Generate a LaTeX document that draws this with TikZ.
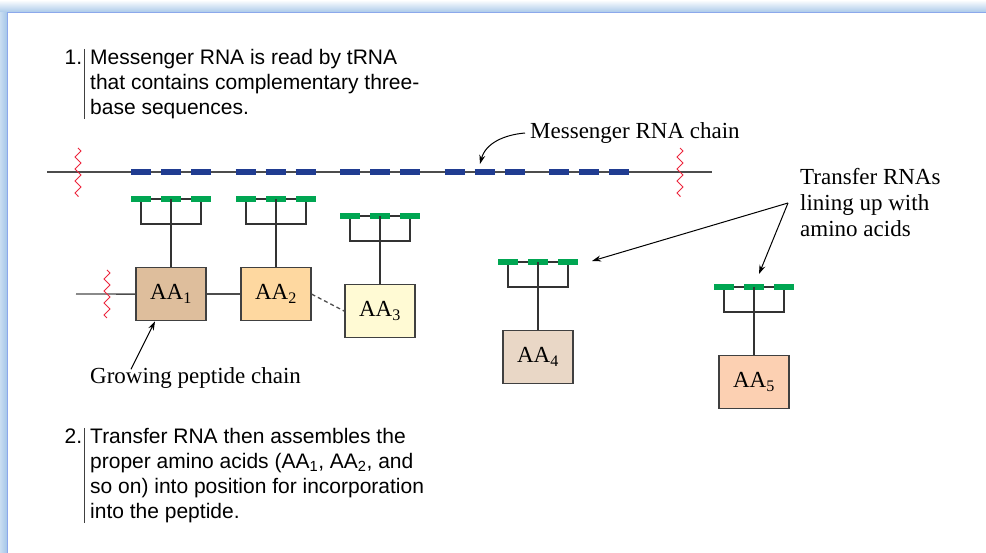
\documentclass[tikz,border=0pt]{standalone}
\usepackage{fontspec}
\setmainfont{Liberation Serif}
\newfontfamily\notefont{Liberation Sans}
\usetikzlibrary{arrows.meta,positioning,decorations.pathmorphing}
\definecolor{codonblue}{RGB}{32,60,145}
\definecolor{anticodongreen}{RGB}{0,166,82}
\definecolor{cutred}{RGB}{236,38,62}
\definecolor{frameblue}{RGB}{165,198,232}
\definecolor{aaone}{RGB}{222,190,156}
\definecolor{aatwo}{RGB}{254,216,160}
\definecolor{aathree}{RGB}{255,250,212}
\definecolor{aafour}{RGB}{233,215,198}
\definecolor{aafive}{RGB}{252,208,178}
\newcommand{\stepno}[1]{\llap{#1\hspace{8pt}}}

\begin{document}
\begin{tikzpicture}[x=1pt, y=-1pt,
  strand/.style={line width=1.3pt, draw=black!70},
  codon/.style={line width=6pt, codonblue},
  anticodon/.style={line width=6pt, anticodongreen},
  arm/.style={line width=1.1pt, black!80},
  cut/.style={cutred, line width=1pt, decorate,
              decoration={zigzag, segment length=12pt, amplitude=3pt}},
  acid/.style={draw=black!75, line width=1.3pt, minimum width=70pt,
               minimum height=53pt, inner sep=0pt, font=\fontsize{23}{26}\selectfont},
  arr/.style={-{Stealth[length=9pt, width=6pt]}, line width=1pt},
  note/.style={font=\notefont\fontsize{21}{25}\selectfont, align=left,
               inner xsep=6pt, inner ysep=0pt, anchor=north west},
  lbl/.style={font=\fontsize{23}{26}\selectfont, align=left, inner sep=0pt}
]
\useasboundingbox (0,0) rectangle (986,553);

% frame
\shade[top color=white, bottom color=frameblue] (0,0) rectangle (986,13);
\shade[left color=white!40!frameblue, right color=frameblue] (0,13) rectangle (7,553);
\draw[frameblue!85!blue, line width=1pt] (986,13) -- (7,13) -- (7,553);

% step 1 text
\node[note] (s1) at (84,49) {\stepno{1.}Messenger RNA is read by tRNA\\that contains complementary three-\\base sequences.};
\draw[line width=1pt, black!75] (s1.north west) -- (s1.south west);

% messenger RNA
\coordinate (m0) at (47,172);
\coordinate (m1) at (712,172);
\draw[strand] (m0) -- (m1);
\foreach \g in {131,235.5,340,444.5,549}
  \foreach \d in {0,30,60}
    \draw[codon] (\g+\d,172) -- ++(20,0);
\draw[cut] (78,148) -- (78,197);
\draw[cut] (680,148) -- (680,197);

\node[lbl, anchor=west] (mlab) at (530,133) {Messenger RNA chain};
\coordinate (mhit) at (480,164);
\draw[arr] ([xshift=-5pt]mlab.west) to[out=185, in=75] (mhit);

% transfer RNAs with amino acids
\foreach \n/\cx/\cy/\fillc in {1/171/199/aaone, 2/276/199/aatwo, 3/380/216/aathree,
                               4/538/262/aafour, 5/754/287/aafive} {
  \coordinate (t\n) at (\cx,\cy);
  \draw[arm] (\cx-40,\cy) -- (\cx+40,\cy);
  \draw[arm] (\cx-30,\cy) |- (\cx+30,\cy+25) -- (\cx+30,\cy);
  \foreach \d in {-30,0,30}
    \draw[anticodon] (\cx+\d-10,\cy) -- ++(20,0);
  \node[acid, fill=\fillc, below=68pt of t\n] (aa\n) {AA\textsubscript{\n}};
  \draw[arm] (t\n) -- (aa\n);
}

% growing peptide
\coordinate (p0) at (76,294);
\draw[strand] (p0) -- (aa1.west);
\draw[strand] (aa1) -- (aa2);
\draw[strand, dash pattern=on 4pt off 3pt] (aa2.east) -- (aa3.west);
\draw[cut] (107,270) -- (107,318);

\node[lbl, anchor=west] (grow) at (90,378) {Growing peptide chain};
\draw[arr] ([xshift=41pt, yshift=-2pt]grow.north west) -- ([xshift=-16pt]aa1.south);

\node[lbl, anchor=west] (tlab) at (800,203) {Transfer RNAs\\lining up with\\amino acids};
\coordinate (tsrc) at ([xshift=-12pt]tlab.west);
\draw[arr] (tsrc) -- ([xshift=54pt, yshift=1pt]t4);
\draw[arr] (tsrc) -- ([xshift=5pt, yshift=13pt]t5);

% step 2 text
\node[note] (s2) at (84,428) {\stepno{2.}Transfer RNA then assembles the\\proper amino acids (AA\textsubscript{1}, AA\textsubscript{2}, and\\so on) into position for incorporation\\into the peptide.};
\draw[line width=1pt, black!75] (s2.north west) -- (s2.south west);
\end{tikzpicture}
\end{document}
